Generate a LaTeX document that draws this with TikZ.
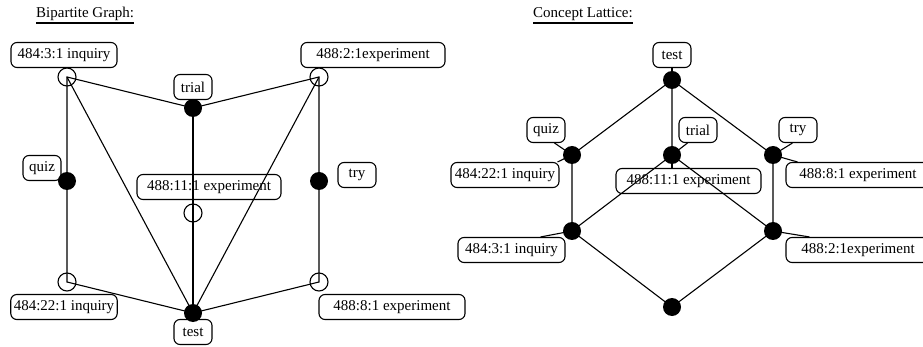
\documentclass[tikz,border=0pt]{standalone}
\usepackage{fontspec}
\setmainfont{Liberation Serif}
\begin{document}
\begin{tikzpicture}[x=1pt,y=-1pt,
  every node/.style={font=\fontsize{15}{18}\selectfont},
  edge/.style={line width=1.1pt},
  lbl/.style={draw,line width=1.1pt,rounded corners=6pt,minimum height=25pt,
              inner xsep=3pt,inner ysep=0pt,minimum width=38pt},
  full/.style={circle,fill=black,minimum size=18pt,inner sep=0pt},
  hollow/.style={circle,draw,line width=1.1pt,minimum size=18pt,inner sep=0pt},
  ttl/.style={inner sep=0pt,anchor=base west}]
\useasboundingbox (0,0) rectangle (923,347);

% ---------- Bipartite graph ----------
\node[ttl] (t1) at (36,18) {Bipartite Graph:};
\draw[line width=1.1pt] ([yshift=-5pt]t1.base west) -- ([yshift=-5pt]t1.base east);

\coordinate (o331) at (67,77);
\coordinate (o221) at (319,77);
\coordinate (o11) at (193,213);
\coordinate (o2221) at (67,282);
\coordinate (o881) at (319,282);
\coordinate (btrial) at (193,108);
\coordinate (bquiz) at (67,181);
\coordinate (btry) at (319,181);
\coordinate (btest) at (193,313);

\draw[edge] (btrial) -- (o331) -- (bquiz) -- (o2221) -- (btest) -- (o881) -- (btry) -- (o221) -- (btrial);
\draw[edge] (o331) -- (btest) -- (o221);
\draw[edge] (btrial) -- (o11) -- (btest);

\node[lbl,minimum width=106pt] (l331) at (64,55) {484:3:1 inquiry};
\node[lbl] (ltrial) at (193,87) {trial};
\node[lbl,minimum width=144pt] (l221) at (373,55) {488:2:1experiment};
\node[lbl] (lquiz) at (42,168) {quiz};
\node[lbl,minimum width=144pt] (l11) at (209,187) {488:11:1 experiment};
\node[lbl] (ltry) at (357,175) {try};
\node[lbl,minimum width=106pt] (l2221) at (64,307) {484:22:1 inquiry};
\node[lbl,minimum width=146pt] (l881) at (392,307) {488:8:1 experiment};
\node[lbl] (ltest) at (193,332) {test};

\node[hollow] (n331) at (o331) {};
\node[hollow] (n221) at (o221) {};
\node[hollow] (n11) at (o11) {};
\node[hollow] (n2221) at (o2221) {};
\node[hollow] (n881) at (o881) {};
\node[full] (ntrial) at (btrial) {};
\node[full] (nquiz) at (bquiz) {};
\node[full] (ntry) at (btry) {};
\node[full] (ntest) at (btest) {};

% ---------- Concept lattice ----------
\node[ttl] (t2) at (533,18) {Concept Lattice:};
\draw[line width=1.1pt] ([yshift=-5pt]t2.base west) -- ([yshift=-5pt]t2.base east);

\coordinate (ctop) at (672,80);
\coordinate (cquiz) at (572,155);
\coordinate (ctrial) at (672,155);
\coordinate (ctry) at (773,155);
\coordinate (c331) at (572,231);
\coordinate (c221) at (773,231);
\coordinate (cbot) at (672,307);

\draw[edge] (ctop) -- (cquiz) -- (c331) -- (cbot) -- (c221) -- (ctry) -- (ctop) -- (ctrial);
\draw[edge] (c331) -- (ctrial) -- (c221);

\node[lbl] (rtest) at (672,55) {test};
\node[lbl] (rquiz) at (546,130) {quiz};
\node[lbl] (rtrial) at (698,130) {trial};
\node[lbl] (rtry) at (798,130) {try};
\node[lbl,minimum width=108pt] (r2221) at (505,175) {484:22:1 inquiry};
\node[lbl,minimum width=145pt] (r11) at (688.5,181) {488:11:1 experiment};
\node[lbl,minimum width=144pt] (r881) at (858,175) {488:8:1 experiment};
\node[lbl,minimum width=107pt] (r331) at (511.5,250) {484:3:1 inquiry};
\node[lbl,minimum width=144pt] (r221) at (858,250) {488:2:1experiment};

\draw[edge] (rtest.south) -- (ctop);
\draw[edge] ([xshift=-11pt]rquiz.south east) -- (cquiz);
\draw[edge] ([xshift=9pt]rtrial.south west) -- (ctrial);
\draw[edge] ([xshift=14pt]rtry.south west) -- (ctry);
\draw[edge] ([xshift=-2pt]r2221.north east) -- (cquiz);
\draw[edge] (ctrial) -- (ctrial |- r11.north);
\draw[edge] ([xshift=12pt]r881.north west) -- (ctry);
\draw[edge] ([xshift=-25pt]r331.north east) -- (c331);
\draw[edge] ([xshift=24pt]r221.north west) -- (c221);

\node[full] (mtop) at (ctop) {};
\node[full] (mquiz) at (cquiz) {};
\node[full] (mtrial) at (ctrial) {};
\node[full] (mtry) at (ctry) {};
\node[full] (m331) at (c331) {};
\node[full] (m221) at (c221) {};
\node[full] (mbot) at (cbot) {};
\end{tikzpicture}
\end{document}
